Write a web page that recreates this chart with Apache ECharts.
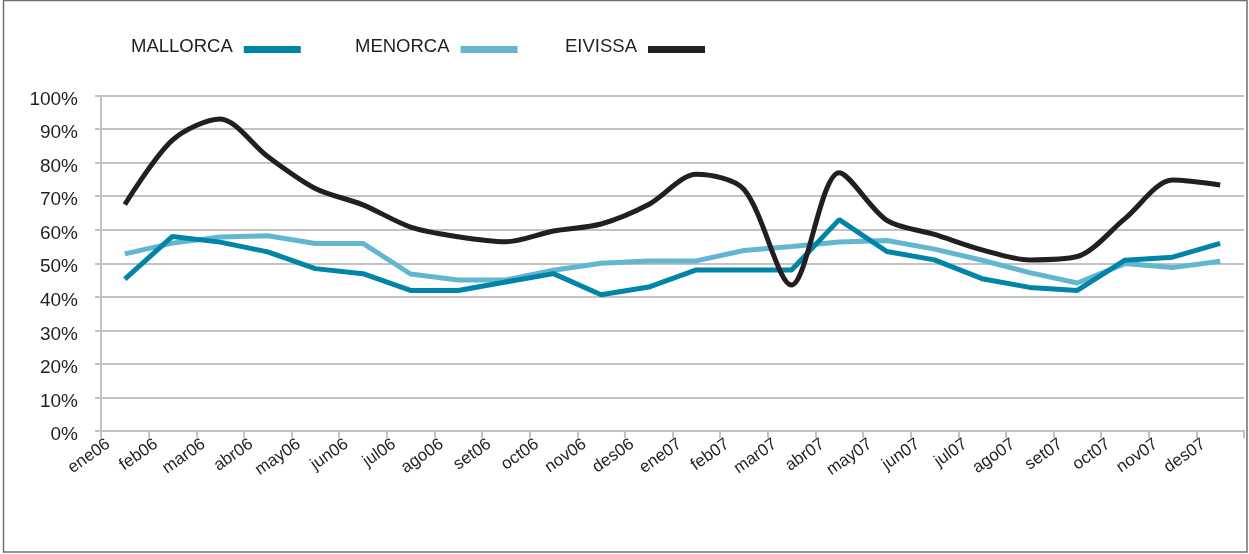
<!DOCTYPE html>
<html>
<head>
<meta charset="utf-8">
<script src="https://cdn.jsdelivr.net/npm/echarts@6/dist/echarts.min.js"></script>
<style>
html,body{margin:0;padding:0;background:#fff;}
#chart{width:1249px;height:554px;}
</style>
</head>
<body>
<div id="chart"></div>
<script>
const categories = ['ene06','feb06','mar06','abr06','may06','jun06','jul06','ago06','set06','oct06','nov06','des06','ene07','feb07','mar07','abr07','may07','jun07','jul07','ago07','set07','oct07','nov07','des07'];
const mallorca = [45.3, 58, 56.3, 53.4, 48.4, 46.9, 41.9, 41.9, 44.4, 46.9, 40.6, 42.9, 48, 48, 48, 63, 53.5, 51, 45.4, 42.8, 41.9, 50.9, 51.8, 55.9];
const menorca = [52.8, 56, 57.8, 58.2, 55.9, 55.9, 46.8, 45, 45, 47.9, 50, 50.7, 50.7, 53.8, 55, 56.3, 56.8, 54.2, 50.9, 47.2, 44.1, 49.9, 48.7, 50.6];
const eivissa = [67.5, 86.7, 93, 81.8, 72.3, 67.4, 60.8, 57.9, 56.4, 59.6, 61.7, 67.5, 76.5, 72, 43.5, 77, 62.8, 58.6, 54, 51, 52, 63.3, 74.8, 73.3];
const seriesNames = ['MALLORCA', 'MENORCA', 'EIVISSA'];
const yTicks = {min: 0, max: 100, interval: 10};

const colors = ['#0084a7', '#63b6d0', '#231f20'];
const font = "'Liberation Sans', Arial, sans-serif";
const gridColor = '#c3c3c7';

function legendFor(name, left) {
  return {
    data: [name], left: left, top: 37, align: 'right',
    icon: 'rect', itemWidth: 57, itemHeight: 7, padding: 0,
    formatter: '{t|{name}}',
    textStyle: {
      fontFamily: font, fontSize: 18.5, color: '#231f20',
      rich: {t: {fontFamily: font, fontSize: 18.5, color: '#231f20', padding: [0, 6, 6, 0]}}
    },
    selectedMode: false
  };
}

const chart = echarts.init(document.getElementById('chart'), null, {renderer: 'canvas'});
chart.setOption({
  animation: false,
  backgroundColor: '#fff',
  color: colors,
  legend: [legendFor(seriesNames[0], 131), legendFor(seriesNames[1], 355), legendFor(seriesNames[2], 565)],
  grid: {left: 101, right: 5, top: 95.5, bottom: 123, containLabel: false},
  xAxis: {
    type: 'category', data: categories, boundaryGap: true,
    axisLine: {lineStyle: {color: gridColor, width: 2}},
    axisTick: {show: true, length: 7, lineStyle: {color: gridColor, width: 2}},
    axisLabel: {rotate: 35, fontFamily: font, fontSize: 17, color: '#231f20', margin: 0, padding: [0, 20, 0, 0], interval: 0}
  },
  yAxis: {
    type: 'value', min: yTicks.min, max: yTicks.max, interval: yTicks.interval,
    axisLine: {show: true, lineStyle: {color: gridColor, width: 2}},
    axisTick: {show: true, length: 6, lineStyle: {color: gridColor, width: 2}},
    splitLine: {lineStyle: {color: gridColor, width: 2}},
    axisLabel: {fontFamily: font, fontSize: 19, color: '#231f20', margin: 23, verticalAlign: 'top', lineHeight: 8, formatter: '{value}%'}
  },
  graphic: [{
    type: 'rect', silent: true,
    shape: {x: 3.5, y: 0.5, width: 1243.5, height: 551.5},
    style: {fill: 'none', stroke: '#707070', lineWidth: 1.5}
  }],
  series: [
    {name: seriesNames[0], type: 'line', data: mallorca, symbol: 'none', lineStyle: {width: 5, color: colors[0]}, z: 3},
    {name: seriesNames[1], type: 'line', data: menorca, symbol: 'none', lineStyle: {width: 5, color: colors[1]}, z: 2},
    {name: seriesNames[2], type: 'line', data: eivissa, symbol: 'none', smooth: 0.3, lineStyle: {width: 5, color: colors[2]}, z: 4}
  ]
});
</script>
</body>
</html>
